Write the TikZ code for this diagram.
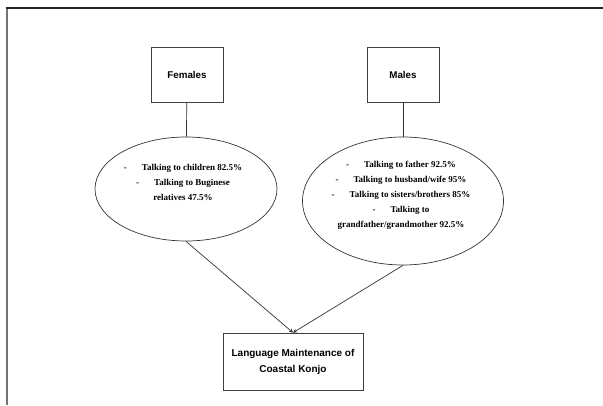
\documentclass[tikz,border=0pt]{standalone}
\usepackage{fontspec}
\setmainfont{Liberation Serif}
\setsansfont{Liberation Sans}
\usetikzlibrary{shapes.geometric,arrows.meta}

\begin{document}
\begin{tikzpicture}[
    x=1pt, y=-1pt,
    group/.style={rectangle, draw=black!75, line width=0.7pt, minimum width=72pt, minimum height=55pt, font=\sffamily\bfseries\fontsize{9.8}{16}\selectfont},
    oval/.style={ellipse, draw=black!80, line width=0.7pt, inner sep=0pt},
    items/.style={align=center, inner sep=0pt, font=\bfseries\fontsize{9}{15}\selectfont},
    link/.style={draw=black!80, line width=0.7pt},
    arrow/.style={link, -{Stealth[length=4pt,width=4pt]}}
]
    \useasboundingbox (0,0) rectangle (603,405);
    % frame of the page
    \draw [black!55, line width=1.6pt] (7,405) -- (7,8);
    \draw [black!85, line width=1.2pt] (6.2,8) -- (603,8);

    \node [group] (females) at (187,74.5) {Females};
    \node [group] (males) at (403,74.5) {Males};

    \node [oval, minimum width=182pt, minimum height=104pt] (fset) at (186,189) {};
    \node [items] (fitems) at (183,182) {-\hspace{15pt}Talking to children 82.5\%\\
        -\hspace{15pt}Talking to Buginese\\
        relatives 47.5\%};

    \node [oval, minimum width=201pt, minimum height=128pt] (mset) at (403,201) {};
    \node [items] (mitems) at (401,195) {-\hspace{15pt}Talking to father 92.5\%\\
        -\hspace{15pt}Talking to husband/wife 95\%\\
        -\hspace{15pt}Talking to sisters/brothers 85\%\\
        -\hspace{15pt}Talking to\\
        grandfather/grandmother 92.5\%};

    \node [group, minimum width=140pt, minimum height=57pt, align=center, font=\sffamily\bfseries\fontsize{10}{16}\selectfont] (konjo) at (293,361.5) {Language Maintenance of\\Coastal Konjo};

    \draw [link] (females) -- (fset);
    \draw [link] (males) -- (mset);
    \draw [arrow] (fset.south) -- (konjo.north);
    \draw [arrow] (mset.south) -- (konjo.north);
\end{tikzpicture}
\end{document}
